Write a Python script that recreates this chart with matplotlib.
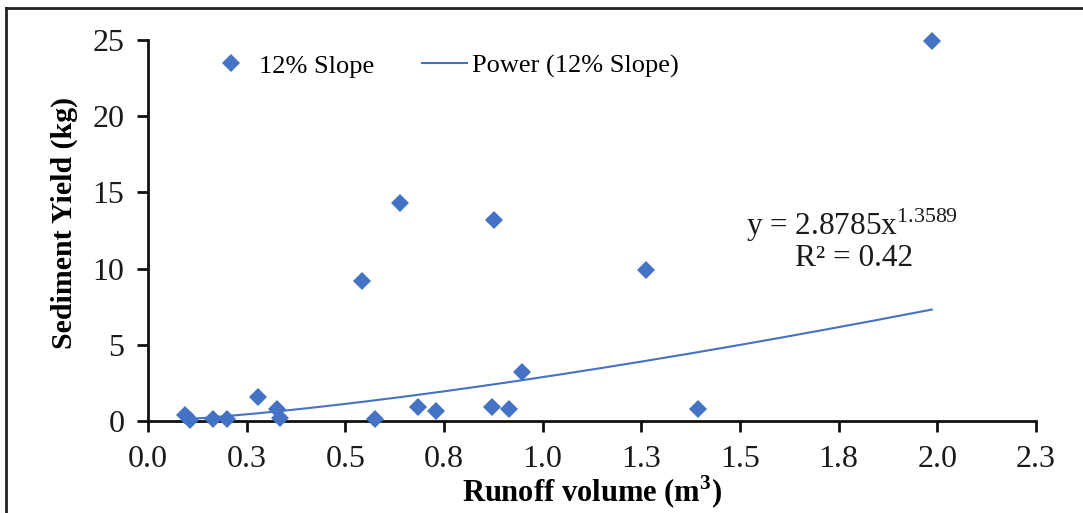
import numpy as np
import matplotlib
matplotlib.use('Agg')
import matplotlib.pyplot as plt
from matplotlib.lines import Line2D

plt.rcParams['font.family'] = ['Liberation Serif', 'DejaVu Serif']
plt.rcParams['mathtext.fontset'] = 'custom'
plt.rcParams['mathtext.rm'] = 'Liberation Serif'
plt.rcParams['mathtext.bf'] = 'Liberation Serif:bold'

# dados
runoff = [0.094, 0.106, 0.165, 0.200, 0.279, 0.327, 0.334, 0.542, 0.575, 0.638,
          0.684, 0.729, 0.876, 0.871, 0.914, 0.947, 1.261, 1.393, 1.986]
sediment = [0.39, 0.07, 0.13, 0.13, 1.57, 0.79, 0.20, 9.19, 0.13, 14.30,
            0.92, 0.66, 13.19, 0.92, 0.79, 3.22, 9.91, 0.79, 24.95]

# ajuste de potência mostrado no gráfico
a_coef = 2.8785
b_coef = 1.3589
r2 = 0.42

xticks = [0.0, 0.25, 0.5, 0.75, 1.0, 1.25, 1.5, 1.75, 2.0, 2.25]
xtick_labels = ['0.0', '0.3', '0.5', '0.8', '1.0', '1.3', '1.5', '1.8', '2.0', '2.3']
yticks = [0, 5, 10, 15, 20, 25]

blue = '#4472C4'
W, H = 1083, 513

fig = plt.figure(figsize=(W / 100, H / 100), dpi=100)
ax = fig.add_axes([148 / W, 1 - 421 / H, (1036 - 148) / W, (421 - 40) / H])

ax.plot(runoff, sediment, 'D', color=blue, markersize=9, markeredgewidth=0,
        label='12% Slope', clip_on=False, zorder=3)

xf = np.linspace(min(runoff), max(runoff), 200)
ax.plot(xf, a_coef * xf ** b_coef, color=blue, lw=1.5, label='Power (12% Slope)', zorder=2)

ax.set_xlim(0, 2.25)
ax.set_ylim(0, 25)
ax.set_xticks(xticks)
ax.set_xticklabels(xtick_labels)
ax.set_yticks(yticks)

for s in ['top', 'right']:
    ax.spines[s].set_visible(False)
for s in ['left', 'bottom']:
    ax.spines[s].set_linewidth(2)
    ax.spines[s].set_color('#111111')
ax.tick_params(direction='out', length=8, width=2, color='#111111',
               labelsize=23, pad=9, labelcolor='#1a1a1a')

ax.set_xlabel(r'Runoff volume (m$^{\mathbf{3}}$)', fontsize=22, fontweight='bold', labelpad=0)
ax.set_ylabel('Sediment Yield (kg)', fontsize=21.5, fontweight='bold')
ax.yaxis.set_label_coords(-0.079, 0.52)

ax.legend(loc='center left', bbox_to_anchor=(209 / W, 1 - 66 / H),
          bbox_transform=fig.transFigure, ncol=2, frameon=False, fontsize=19,
          handlelength=1.7, handletextpad=0.2, columnspacing=1.8,
          borderpad=0, borderaxespad=0)

fig.text(852 / W, 1 - 225 / H, r'y = %.4fx$^{\mathrm{%.4f}}$' % (a_coef, b_coef),
         ha='center', va='center', fontsize=22.5, color='#1a1a1a')
fig.text(854 / W, 1 - 258 / H, 'R² = %.2f' % r2,
         ha='center', va='center', fontsize=22.5, color='#1a1a1a')

# moldura
fig.add_artist(Line2D([6 / W, 1], [1 - 8 / H, 1 - 8 / H], transform=fig.transFigure,
                      color='#222222', lw=2))
fig.add_artist(Line2D([6 / W, 6 / W], [0, 1 - 8 / H], transform=fig.transFigure,
                      color='#222222', lw=2))

fig.savefig('out.png', dpi=100)
